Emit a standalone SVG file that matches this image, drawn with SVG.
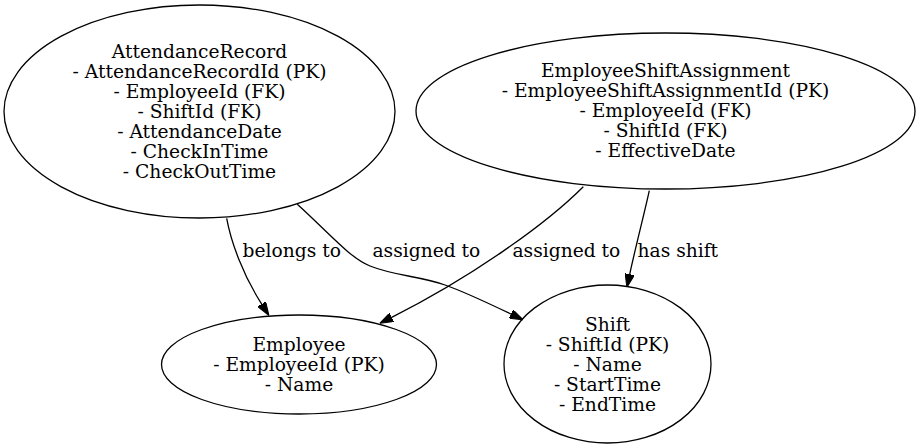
<svg xmlns="http://www.w3.org/2000/svg" width="920" height="448" viewBox="0 0 920 448">
<style>
.node ellipse{fill:none;stroke:#000;stroke-width:1.3}
text{font-family:"DejaVu Serif","Liberation Serif",serif;font-size:18.67px;fill:#000}
.node text{text-anchor:middle}
.edge path{fill:none;stroke:#000;stroke-width:1.3}
</style>
<defs>
<marker id="arr" viewBox="0 0 10 7" refX="0" refY="3.5" markerUnits="userSpaceOnUse" markerWidth="13.3" markerHeight="9.33" orient="auto">
<path d="M0,0 L10,3.5 L0,7 z" fill="#000" stroke="#000" stroke-width="0.8"/>
</marker>
</defs>
<rect width="920" height="448" fill="#fff"/>
<g id="AttendanceRecord" class="node">
<ellipse cx="199.5" cy="111.5" rx="195.5" ry="106.5"/>
<text x="199.5" y="57.5">AttendanceRecord</text>
<text x="199.5" y="77.5">- AttendanceRecordId (PK)</text>
<text x="199.5" y="97.5">- EmployeeId (FK)</text>
<text x="199.5" y="117.5">- ShiftId (FK)</text>
<text x="199.5" y="137.5">- AttendanceDate</text>
<text x="199.5" y="157.5">- CheckInTime</text>
<text x="199.5" y="177.5">- CheckOutTime</text>
</g>
<g id="EmployeeShiftAssignment" class="node">
<ellipse cx="665.5" cy="111" rx="249.5" ry="78"/>
<text x="665.5" y="77">EmployeeShiftAssignment</text>
<text x="665.5" y="97">- EmployeeShiftAssignmentId (PK)</text>
<text x="665.5" y="117">- EmployeeId (FK)</text>
<text x="665.5" y="137">- ShiftId (FK)</text>
<text x="665.5" y="157">- EffectiveDate</text>
</g>
<g id="Employee" class="node">
<ellipse cx="299" cy="364.5" rx="137.5" ry="49.5"/>
<text x="299" y="351">Employee</text>
<text x="299" y="371">- EmployeeId (PK)</text>
<text x="299" y="391">- Name</text>
</g>
<g id="Shift" class="node">
<ellipse cx="607.5" cy="364" rx="103.5" ry="79"/>
<text x="607.5" y="331">Shift</text>
<text x="607.5" y="351">- ShiftId (PK)</text>
<text x="607.5" y="371">- Name</text>
<text x="607.5" y="391">- StartTime</text>
<text x="607.5" y="411">- EndTime</text>
</g>
<g id="edges" class="edge">
<path d="M226.7,218.3 C231,242 243,275 261.7,304.1" marker-end="url(#arr)"/>
<text x="242.5" y="256.5">belongs to</text>
<path d="M297.3,204.3 C330,234 350,258 370,266 C395,276 420,276 445,285 C465,292 490,304 511.1,314.1" marker-end="url(#arr)"/>
<text x="372.5" y="256.5">assigned to</text>
<path d="M583.3,186.7 C545,225 470,278 391.7,317.3" marker-end="url(#arr)"/>
<text x="512.5" y="256.5">assigned to</text>
<path d="M649.3,190.7 C644,215 636,245 629.7,274.3" marker-end="url(#arr)"/>
<text x="637.5" y="256.5">has shift</text>
</g>
</svg>
